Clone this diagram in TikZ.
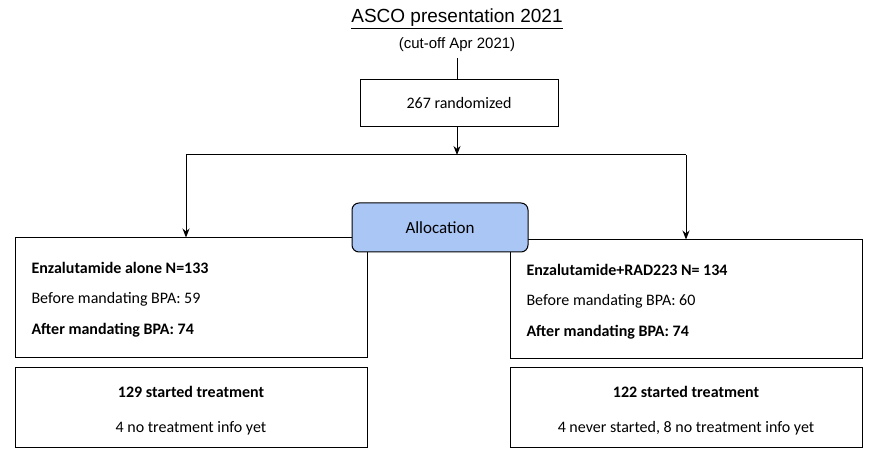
\documentclass[tikz,border=0pt]{standalone}
\usepackage{fontspec}
\setmainfont{Carlito}
\newfontfamily\arialf{Liberation Sans}
\usetikzlibrary{arrows.meta}
\begin{document}
\begin{tikzpicture}[x=1pt,y=-1pt,
  box/.style={draw=black,line width=1pt,inner sep=0pt},
  ln/.style={draw=black,line width=1pt},
  arr/.style={ln,-{Stealth[length=9pt,width=7pt]}},
  txt/.style={font=\fontsize{16}{19}\selectfont,anchor=west}]
\useasboundingbox (0,0) rectangle (870,462);
\node[font=\arialf\fontsize{19}{22}\selectfont] (t1) at (457,19) {\underline{ASCO presentation 2021}};
\node[font=\arialf\fontsize{15}{18}\selectfont] (t2) at (457,45) {(cut-off Apr 2021)};
\node[box,minimum width=198pt,minimum height=47pt,font=\fontsize{16}{19}\selectfont] (r) at (459,103.5) {267 randomized};
\coordinate (c0) at (457,58);
\coordinate (j) at (457,155);
\coordinate (jl) at (186,155);
\coordinate (jr) at (686,155);
\node[box,minimum width=352pt,minimum height=119pt] (L) at (191,297.5) {};
\node[box,minimum width=352pt,minimum height=118pt] (R) at (686,299) {};
\draw[ln] (c0) -- (c0|-r.north);
\draw[arr] (j|-r.south) -- (j);
\draw[ln] (jl) -- (jr);
\draw[arr] (jl) -- (jl|-L.north);
\draw[arr] (jr) -- (jr|-R.north);
\node[draw=black,line width=1pt,rounded corners=7pt,fill={rgb,255:red,170;green,198;blue,245},minimum width=176pt,minimum height=49pt,font=\fontsize{17}{20}\selectfont] (A) at (440,227.5) {Allocation};
\node[txt,font=\bfseries\fontsize{16}{19}\selectfont] (l1) at (28,268) {Enzalutamide alone N=133};
\node[txt] (l2) at (28,299) {Before mandating BPA: 59};
\node[txt,font=\bfseries\fontsize{16}{19}\selectfont] (l3) at (28,330) {After mandating BPA: 74};
\node[txt,font=\bfseries\fontsize{16}{19}\selectfont] (r1) at (523,270) {Enzalutamide+RAD223 N= 134};
\node[txt] (r2) at (523,301) {Before mandating BPA: 60};
\node[txt,font=\bfseries\fontsize{16}{19}\selectfont] (r3) at (523,332) {After mandating BPA: 74};
\node[box,minimum width=352pt,minimum height=80pt] (L2) at (191,407) {};
\node[box,minimum width=352pt,minimum height=80pt] (R2) at (686,407) {};
\node[font=\bfseries\fontsize{16}{19}\selectfont] (a1) at (191,392) {129 started treatment};
\node[font=\fontsize{16}{19}\selectfont] (a2) at (191,428) {4 no treatment info yet};
\node[font=\bfseries\fontsize{16}{19}\selectfont] (b1) at (686,392) {122 started treatment};
\node[font=\fontsize{16}{19}\selectfont] (b2) at (686,428) {4 never started, 8 no treatment info yet};
\end{tikzpicture}
\end{document}
